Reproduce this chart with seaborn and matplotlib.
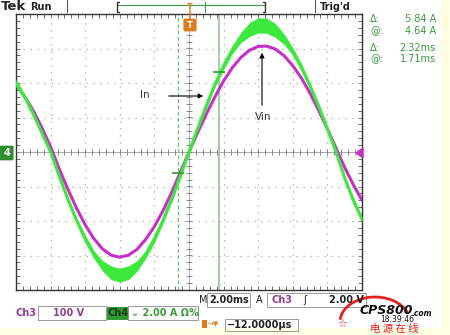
import numpy as np
import pandas as pd
import matplotlib
matplotlib.use("Agg")
import matplotlib.pyplot as plt
import seaborn as sns
from matplotlib.patches import Rectangle, FancyBboxPatch, Arc, Polygon

# time axis in screen divisions (2.00 ms/div), trigger at centre
time_div = [-5.0, -4.75, -4.5, -4.25, -4.0, -3.75, -3.5, -3.25, -3.0, -2.75,
            -2.5, -2.25, -2.0, -1.75, -1.5, -1.25, -1.0, -0.75, -0.5, -0.25,
            0.0, 0.25, 0.5, 0.75, 1.0, 1.25, 1.5, 1.75, 2.0, 2.25,
            2.5, 2.75, 3.0, 3.25, 3.5, 3.75, 4.0, 4.25, 4.5, 4.75, 5.0]

# Ch4 input current (green), in divisions of 2.00 A
ch4_current = [2.00, 1.60, 1.10, 0.55, 0.00, -0.70, -1.37, -1.98, -2.52, -2.97,
               -3.30, -3.50, -3.57, -3.50, -3.30, -2.97, -2.52, -1.98, -1.37, -0.70,
               0.00, 0.68, 1.34, 1.96, 2.50, 2.96, 3.32, 3.55, 3.67, 3.66,
               3.52, 3.27, 2.91, 2.45, 1.91, 1.32, 0.67, 0.00, -0.75, -1.40, -1.95]
# half width of the noise band on the green trace
ch4_noise = [0.11, 0.08, 0.08, 0.06, 0.06, 0.06, 0.08, 0.08, 0.11, 0.11,
             0.15, 0.20, 0.20, 0.20, 0.15, 0.11, 0.11, 0.08, 0.08, 0.06,
             0.06, 0.06, 0.08, 0.08, 0.11, 0.11, 0.15, 0.20, 0.22, 0.22,
             0.20, 0.15, 0.11, 0.11, 0.08, 0.08, 0.06, 0.06, 0.06, 0.08, 0.08]

# Ch3 input voltage (magenta), in divisions
ch3_voltage = [1.95, 1.60, 1.20, 0.70, 0.15, -0.49, -1.08, -1.63, -2.11, -2.51,
               -2.81, -2.99, -3.05, -2.99, -2.82, -2.53, -2.16, -1.70, -1.17, -0.59,
               0.00, 0.56, 1.10, 1.60, 2.06, 2.44, 2.74, 2.95, 3.06, 3.07,
               2.98, 2.79, 2.50, 2.14, 1.70, 1.20, 0.67, 0.11, -0.45, -0.95, -1.40]

# cursor readouts
amp_delta, amp_at = 5.84, 4.64      # A
time_delta, time_at = 2.32, 1.71    # ms
amp_per_div, ms_per_div = 2.00, 2.00

df = pd.DataFrame({"t": time_div, "i": ch4_current, "v": ch3_voltage})
df["lo"] = df["i"] - np.array(ch4_noise)
df["hi"] = df["i"] + np.array(ch4_noise)

GREEN = "#3BE83B"
MAGENTA = "#C72FC7"
TXT_GREEN = "#3A9A3A"
PURPLE = "#953A95"
ORANGE = "#E07A1E"

sns.set_style("white")
plt.rcParams["font.family"] = ["DejaVu Sans", "Noto Sans CJK SC"]

W, H = 450, 335
def fx(x):
    return x / W
def fy(y):
    return 1 - y / H

fig = plt.figure(figsize=(4.5, 3.35), dpi=100, facecolor="#FDFDE2")
fig.add_artist(Rectangle((0, fy(328)), fx(441), 328 / H, transform=fig.transFigure,
                         facecolor="white", edgecolor="none", zorder=0))

ax = fig.add_axes([fx(16), fy(290), fx(362) - fx(16), fy(14) - fy(290)])
ax.set_facecolor("white")
ax.set_xlim(-5, 5)
ax.set_ylim(-4, 4)

# graticule
for gx in [-4, -3, -2, -1, 1, 2, 3, 4]:
    ax.axvline(gx, color="#a5a5a5", lw=0.9, ls=(0, (1, 4.6)), zorder=1)
for gy in [-3, -2, -1, 1, 2, 3]:
    ax.axhline(gy, color="#a5a5a5", lw=0.9, ls=(0, (1, 4.6)), zorder=1)
ax.axhline(0, color="#9a9a9a", lw=0.6, zorder=1)
ax.axvline(0, color="#9a9a9a", lw=0.6, zorder=1)
minor = np.arange(-5, 5.01, 0.2)
ax.plot(minor, np.zeros_like(minor), ls="none", marker="|", ms=4, mew=0.6, color="#777777", zorder=1)
ax.plot(np.zeros_like(minor[5:46]), np.arange(-4, 4.01, 0.2), ls="none", marker="_", ms=4,
        mew=0.6, color="#777777", zorder=1)
ax.set_xticks(np.arange(-5, 6, 1))
ax.set_yticks(np.arange(-4, 5, 1))
ax.set_xticks(minor, minor=True)
ax.set_yticks(np.arange(-4, 4.01, 0.2), minor=True)
ax.tick_params(which="both", direction="in", top=True, right=True, bottom=True, left=True,
               length=3, width=0.6, color="#555555", labelbottom=False, labelleft=False)
for s in ax.spines.values():
    s.set_color("#333333")
    s.set_linewidth(1.0)

# cursors
cur_b = time_at / ms_per_div
cur_a = (time_at - time_delta) / ms_per_div
ax.axvline(cur_a, color="#66C266", lw=0.9, ls=(0, (3, 2)), zorder=1.5)
ax.axvline(cur_b, color="#A3CDA3", lw=1.4, zorder=1.5)

# traces
sns.lineplot(data=df, x="t", y="v", ax=ax, color=MAGENTA, lw=2.2, sort=False, zorder=3)
ax.fill_between(df["t"], df["lo"], df["hi"], color=GREEN, lw=0, zorder=4)
sns.lineplot(data=df, x="t", y="i", ax=ax, color=GREEN, lw=2.2, sort=False, zorder=4)
ax.plot([cur_b, cur_a], [amp_at / amp_per_div, (amp_at - amp_delta) / amp_per_div],
        ls="none", marker="_", ms=9, mew=1.2, color="#2E9E2E", zorder=5)
ax.set_xlabel("")
ax.set_ylabel("")

# annotations
fig.text(fx(140), fy(95), "In", fontsize=7.5, color="#333333", va="center")
fig.add_artist(matplotlib.patches.FancyArrowPatch((fx(166), fy(96)), (fx(206), fy(96)),
               transform=fig.transFigure, arrowstyle="-|>", mutation_scale=7, lw=0.8, color="black"))
fig.text(fx(255), fy(117), "Vin", fontsize=7.5, color="#333333", va="center")
fig.add_artist(matplotlib.patches.FancyArrowPatch((fx(262), fy(108)), (fx(262), fy(50)),
               transform=fig.transFigure, arrowstyle="-|>", mutation_scale=7, lw=0.8, color="black"))

# top status bar
fig.text(fx(1), fy(7), "Tek", fontsize=9.5, fontweight="bold", va="center")
fig.text(fx(30), fy(7), "Run", fontsize=7, fontweight="bold", va="center", color="#222222")
for sx in [67, 315]:
    fig.add_artist(plt.Line2D([fx(sx), fx(sx)], [fy(0), fy(12)], transform=fig.transFigure,
                              color="#555555", lw=0.8))
fig.add_artist(plt.Line2D([fx(117), fx(265)], [fy(5), fy(5)], transform=fig.transFigure,
                          color="#4E9A4E", lw=0.9))
for bx, d in [(117, 1), (265, -1)]:
    fig.add_artist(plt.Line2D([fx(bx + 2 * d), fx(bx), fx(bx), fx(bx + 2 * d)],
                              [fy(2), fy(2), fy(12), fy(12)], transform=fig.transFigure,
                              color="#333333", lw=1.0))
fig.add_artist(plt.Line2D([fx(205), fx(205)], [fy(2), fy(12)], transform=fig.transFigure,
                          color="#4E9A4E", lw=0.9))
fig.text(fx(190), fy(7), "T", fontsize=6, fontweight="bold", color=ORANGE, ha="center", va="center")
fig.add_artist(plt.Line2D([fx(190), fx(190)], [fy(11), fy(20)], transform=fig.transFigure,
                          color=ORANGE, lw=1.2))
fig.add_artist(FancyBboxPatch((fx(185), fy(30)), fx(10), fy(20) - fy(30), boxstyle="round,pad=0.002",
                              transform=fig.transFigure, facecolor=ORANGE, edgecolor=ORANGE))
fig.text(fx(190), fy(25), "T", fontsize=6, fontweight="bold", color="white", ha="center", va="center")
fig.text(fx(320), fy(7), "Trig'd", fontsize=7, fontweight="bold", color="#222222", va="center")

# channel markers
fig.add_artist(FancyBboxPatch((fx(1), fy(159)), fx(11), fy(147) - fy(159), boxstyle="round,pad=0.002",
                              transform=fig.transFigure, facecolor="#2F8F2F", edgecolor="#2F8F2F"))
fig.text(fx(6.5), fy(153), "4", fontsize=7, fontweight="bold", color="white", ha="center", va="center")
fig.add_artist(Polygon([[fx(356), fy(153)], [fx(363), fy(148)], [fx(363), fy(158)]],
                       closed=True, transform=fig.transFigure, color=MAGENTA))

# cursor readouts
rows = [(19, "\u0394:", f"{amp_delta:.2f} A"), (31, "@:", f"{amp_at:.2f} A"),
        (48, "\u0394:", f"{time_delta:.2f}ms"), (59, "@:", f"{time_at:.2f}ms")]
for ry, lab, val in rows:
    fig.text(fx(370), fy(ry), lab, fontsize=7, color=TXT_GREEN, va="center")
    fig.text(fx(436), fy(ry), val, fontsize=7, color=TXT_GREEN, va="center", ha="right")

# bottom readouts
def box(x0, x1, y0, y1, fc="none", ec="#999999"):
    fig.add_artist(Rectangle((fx(x0), fy(y1)), fx(x1) - fx(x0), fy(y0) - fy(y1),
                             transform=fig.transFigure, facecolor=fc, edgecolor=ec, lw=0.7))

fig.text(fx(199), fy(300), "M", fontsize=7, color="#222222", va="center")
box(207, 250, 293, 307)
fig.text(fx(209), fy(300), "2.00ms", fontsize=7, fontweight="bold", color="#222222", va="center")
fig.text(fx(256), fy(300), "A", fontsize=7, color="#222222", va="center")
box(267, 366, 293, 307)
fig.text(fx(271), fy(300), "Ch3", fontsize=7, fontweight="bold", color=PURPLE, va="center")
fig.text(fx(303), fy(300), "\u0283", fontsize=7, color="#222222", va="center")
fig.text(fx(364), fy(300), "2.00 V", fontsize=7, fontweight="bold", color="#222222", va="center", ha="right")

fig.text(fx(15), fy(313), "Ch3", fontsize=7, fontweight="bold", color=PURPLE, va="center")
box(38, 106, 306, 320)
fig.text(fx(53), fy(313), "100 V", fontsize=7, fontweight="bold", color=PURPLE, va="center")
box(107, 128, 307, 319, fc="#2F9A2F", ec="#2F9A2F")
fig.text(fx(108), fy(313), "Ch4", fontsize=7, fontweight="bold", color="#1A3A1A", va="center")
box(128, 198, 306, 320)
fig.text(fx(131), fy(313), "\u2304 2.00 A \u03a9%", fontsize=7, fontweight="bold", color=TXT_GREEN, va="center")

fig.add_artist(Rectangle((fx(202), fy(328)), fx(5), fy(320) - fy(328), transform=fig.transFigure,
                         facecolor=ORANGE, edgecolor="none"))
fig.text(fx(208), fy(324), "\u2192\u25BC", fontsize=5, color=ORANGE, va="center")
box(225, 298, 319, 331)
fig.text(fx(227), fy(325), "\u221212.0000\u00b5s", fontsize=7, fontweight="bold", color="#222222", va="center")

# watermark
fig.add_artist(Arc((fx(375), fy(322)), fx(70), 50 / H, theta1=20, theta2=175,
                   transform=fig.transFigure, color="#E62020", lw=2.0))
fig.text(fx(342), fy(324), "\u2606", fontsize=8, color="#E62020", ha="center", va="center")
fig.text(fx(360), fy(310), "CPS800", fontsize=9, fontweight="bold", style="italic", color="#111111", va="center")
fig.text(fx(412), fy(313), ".com", fontsize=5.5, fontweight="bold", style="italic", color="#111111", va="center")
fig.text(fx(380), fy(319.5), "18:39:46", fontsize=5.5, color="#111111", va="center")
fig.text(fx(370), fy(329), "电 源 在 线", fontsize=7.5, color="#E62020", va="center",
         family=["Noto Sans CJK SC", "DejaVu Sans"], style="italic")

fig.savefig("out.png", dpi=100, facecolor=fig.get_facecolor())
